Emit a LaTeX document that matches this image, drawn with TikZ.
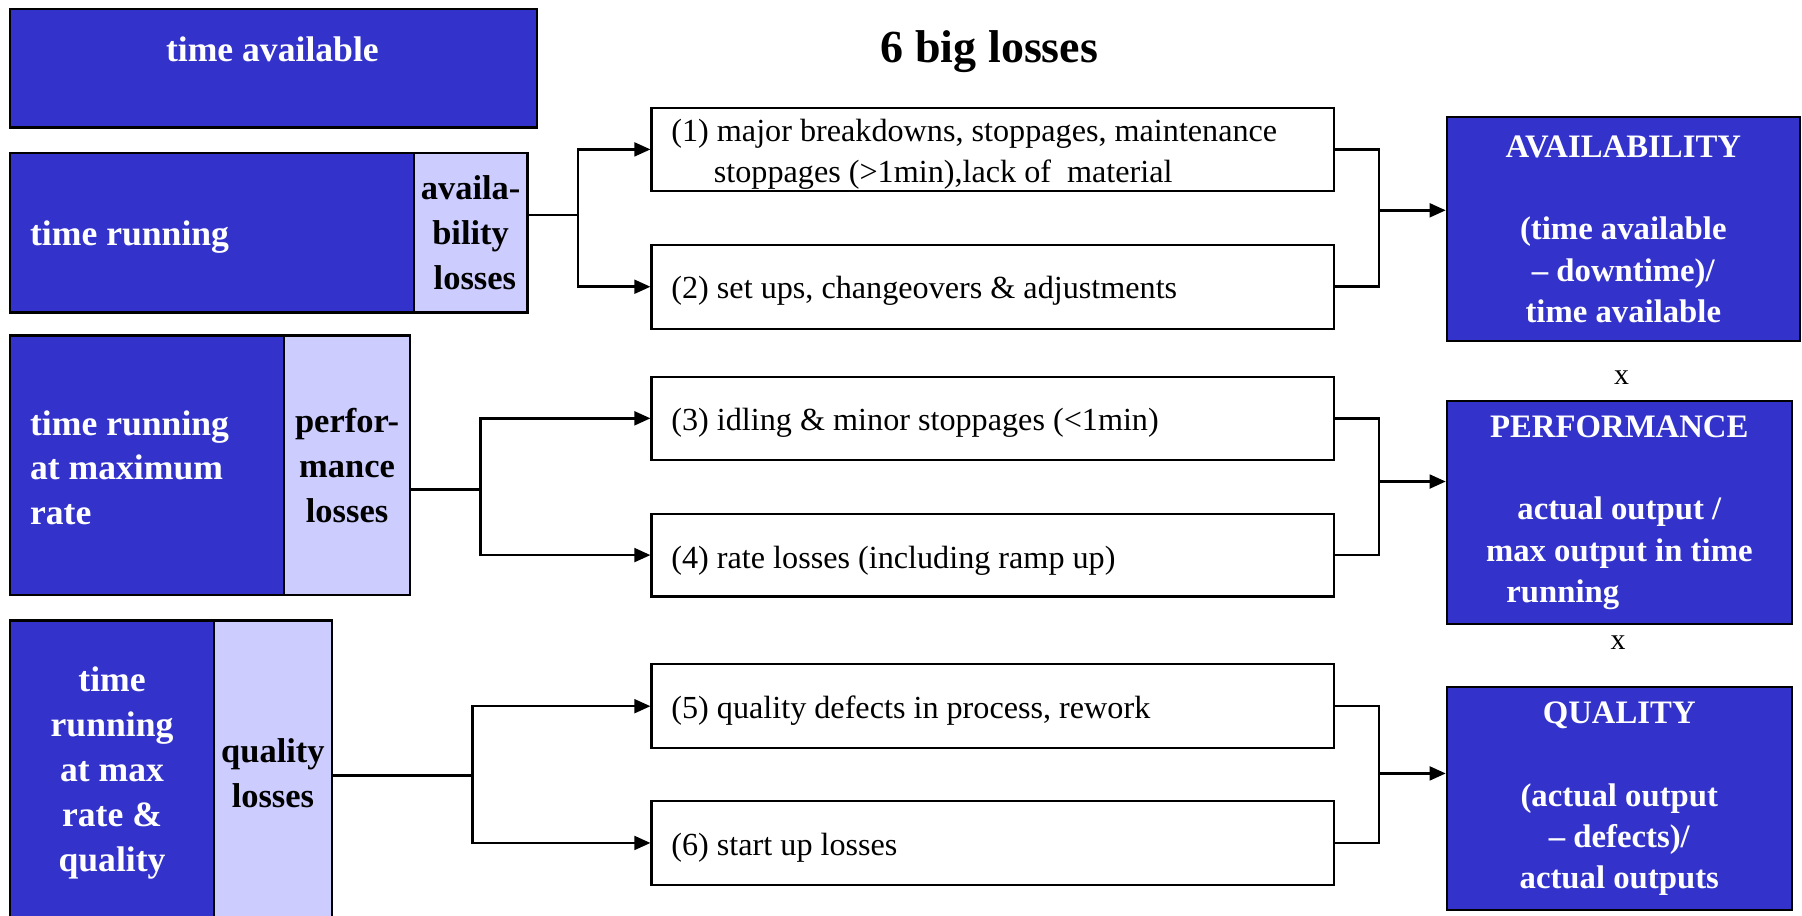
\documentclass[tikz,border=0pt]{standalone}
\usepackage{fontspec}
\setmainfont{Liberation Serif}
\usetikzlibrary{arrows.meta}
\definecolor{boxblue}{HTML}{3333CC}
\definecolor{lav}{HTML}{CCCCFF}
\tikzset{
  frame/.style={draw=black, line width=2pt, inner sep=0pt, anchor=north west},
  bluebox/.style={frame, fill=boxblue},
  lavbox/.style={frame, fill=lav, align=center, font=\fontsize{30}{39}\selectfont\bfseries},
  lossbox/.style={frame, fill=white},
  wlabel/.style={text=white, font=\fontsize{31}{39}\selectfont\bfseries, inner sep=0pt},
  rlabel/.style={text=white, align=center, font=\fontsize{28.5}{36}\selectfont\bfseries},
  btext/.style={font=\fontsize{28}{36}\selectfont, align=left, anchor=west, inner sep=0pt},
  conn/.style={line width=2.2pt},
  arr/.style={conn, -{Triangle[length=14pt,width=12pt]}}
}
\begin{document}
\begin{tikzpicture}[x=1pt,y=-1pt]
\useasboundingbox (0,0) rectangle (1568,797);
\clip (0,0) rectangle (1568,797);
% left column
\node[bluebox, minimum width=458pt, minimum height=103pt] (TA) at (8,7) {};
\node[wlabel] (TAt) at (237,43) {time available};
\node[bluebox, minimum width=351pt, minimum height=139pt] (TR) at (8,132) {};
\node[wlabel, anchor=west] (TRt) at (26,206) {time running};
\node[lavbox, minimum width=99pt, minimum height=139pt] (AL) at (359,132) {availa-\\bility\\\ losses};
\node[bluebox, minimum width=238pt, minimum height=226pt] (PR) at (8,291) {};
\node[wlabel, anchor=west, align=left] (PRt) at (26,407) {time running\\at maximum\\rate};
\node[lavbox, minimum width=110pt, minimum height=226pt] (PL) at (246,291) {perfor-\\mance\\losses};
\node[bluebox, minimum width=177pt, minimum height=265pt, text=white, align=center, font=\fontsize{31}{39}\selectfont\bfseries] (QR) at (8,539) {time\\running\\at max\\rate \&\\quality};
\node[lavbox, minimum width=103pt, minimum height=265pt] (QL) at (185,539) {quality\\losses};
% title
\node[font=\fontsize{40}{48}\selectfont\bfseries] (title) at (861,45) {6 big losses};
% loss boxes
\node[lossbox, minimum width=594pt, minimum height=72pt] (B1) at (566,93) {};
\node[btext] (B1t) at (584,134) {(1) major breakdowns, stoppages, maintenance\\\hspace*{37pt}stoppages (>1min),lack of\ \ material};
\node[lossbox, minimum width=594pt, minimum height=73pt] (B2) at (566,212) {};
\node[btext] (B2t) at (584,253) {(2) set ups, changeovers \& adjustments};
\node[lossbox, minimum width=594pt, minimum height=72pt] (B3) at (566,327) {};
\node[btext] (B3t) at (584,368) {(3) idling \& minor stoppages (<1min)};
\node[lossbox, minimum width=594pt, minimum height=72pt] (B4) at (566,446) {};
\node[btext] (B4t) at (584,488) {(4) rate losses (including ramp up)};
\node[lossbox, minimum width=594pt, minimum height=73pt] (B5) at (566,577) {};
\node[btext] (B5t) at (584,618) {(5) quality defects in process, rework};
\node[lossbox, minimum width=594pt, minimum height=73pt] (B6) at (566,696) {};
\node[btext] (B6t) at (584,738) {(6) start up losses};
% result boxes
\node[bluebox, minimum width=307pt, minimum height=195pt, rlabel] (AV) at (1258,101) {AVAILABILITY\\[36pt](time available\\\textendash{} downtime)/\\time available};
\node[bluebox, minimum width=300pt, minimum height=194pt, rlabel] (PF) at (1258,348) {PERFORMANCE\\[36pt]actual output /\\max output in time\\running\phantom{running}};
\node[bluebox, minimum width=300pt, minimum height=194pt, rlabel] (QU) at (1258,597) {QUALITY\\[36pt](actual output\\\textendash{} defects)/\\actual outputs};
\node[font=\fontsize{26}{30}\selectfont] (x1) at (1411,329) {x};
\node[font=\fontsize{26}{30}\selectfont] (x2) at (1408,559) {x};
% left forks
\coordinate (fA) at (503,187);
\coordinate (fP) at (418,426);
\coordinate (fQ) at (411,675);
\draw[conn] (AL.east |- fA) -- (fA);
\draw[arr] (fA) |- (B1.west);
\draw[arr] (fA) |- (B2.west);
\draw[conn] (PL.east |- fP) -- (fP);
\draw[arr] (fP) |- (B3.west);
\draw[arr] (fP) |- (B4.west);
\draw[conn] (QL.east |- fQ) -- (fQ);
\draw[arr] (fQ) |- (B5.west);
\draw[arr] (fQ) |- (B6.west);
% right joins
\coordinate (jA) at (1200,183);
\coordinate (jP) at (1200,419);
\coordinate (jQ) at (1200,673);
\draw[conn] (B1.east) -| (jA) |- (B2.east);
\draw[arr] (jA) -- (AV.west |- jA);
\draw[conn] (B3.east) -| (jP) |- (B4.east);
\draw[arr] (jP) -- (PF.west |- jP);
\draw[conn] (B5.east) -| (jQ) |- (B6.east);
\draw[arr] (jQ) -- (QU.west |- jQ);
\end{tikzpicture}
\end{document}
